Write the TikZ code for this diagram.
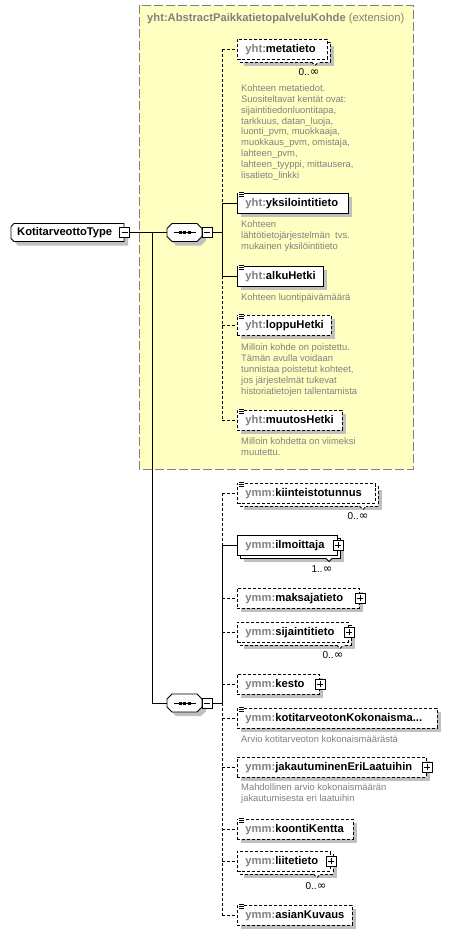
\documentclass[tikz,border=0pt]{standalone}
\usepackage{fontspec}
\setmainfont{Liberation Sans}
\newfontfamily\symfont{DejaVu Sans}
\usetikzlibrary{calc}
\definecolor{prefixgray}{HTML}{808080}
\definecolor{descgray}{HTML}{808080}
\definecolor{shadowgray}{HTML}{C0C0C0}
\definecolor{extyellow}{HTML}{FFFFC2}
\definecolor{extborder}{HTML}{808080}
\newcommand\elfont{\fontsize{11.2}{13}\selectfont\bfseries}
\newcommand\descfont{\fontsize{9.4}{10.9}\selectfont}
\newcommand\multfont{\fontsize{10}{11}\selectfont}
\newcommand\infsym{{\symfont\fontsize{11.5}{12}\selectfont ∞}}
\newcommand\el[2]{\mbox{\textcolor{prefixgray}{#1:}#2}}
\tikzset{
  elem/.style={draw, fill=white, line width=0.9pt, minimum height=20pt, inner xsep=8pt, inner ysep=0pt, anchor=north west, align=left, font=\elfont},
  optb/.style={dash pattern=on 3pt off 2pt},
  conn/.style={line width=0.9pt},
  optconn/.style={conn, dash pattern=on 3pt off 2pt},
  shd/.style={fill=shadowgray, draw=none},
  backbox/.style={draw, fill=white, line width=0.9pt},
  desc/.style={anchor=north west, inner sep=0pt, align=left, font=\descfont, text=descgray},
  mult/.style={font=\multfont, inner sep=0pt},
  pmbox/.style={draw, fill=white, minimum size=10pt, inner sep=0pt, line width=0.8pt},
}
% single element box: name, x, y, width, border style, text
\newcommand\elsingle[6]{%
  \fill[shd] ({#2+4},{#3+4}) rectangle ({#2+#4+4},{#3+24});
  \pgfmathsetmacro\tw{#4-16}
  \node[elem,#5,text width=\tw pt] (#1) at (#2,#3) {#6};
}
% stacked (multiple) element box: name, x, y, width, border style, text, notch x
\newcommand\elstack[7]{%
  \fill[shd] ({#2+7},{#3+7}) rectangle ({#2+#4+7},{#3+27});
  \draw[backbox,#5] ({#2+3},{#3+3}) rectangle ({#2+#4+3},{#3+23});
  \draw[backbox,#5] ({#7-3.5},{#3+23}) -- (#7,{#3+26.5}) -- ({#7+3.5},{#3+23});
  \pgfmathsetmacro\tw{#4-16}
  \node[elem,#5,text width=\tw pt] (#1) at (#2,#3) {#6};
}
\newcommand\docicon[1]{%
  \fill[white] ([xshift=1pt,yshift=1.5pt]#1.north west) rectangle ([xshift=7pt,yshift=-4.5pt]#1.north west);
  \foreach \dy in {0.5,-1.5,-3.5} \draw[line width=0.7pt] ([xshift=1.5pt,yshift=\dy pt]#1.north west) -- ([xshift=6.5pt,yshift=\dy pt]#1.north west);
}
\newcommand\plusbox[2]{%
  \node[pmbox] (#1) at (#2) {};
  \draw[line width=0.8pt] ([xshift=-3pt]#1.center) -- ([xshift=3pt]#1.center) ([yshift=-3pt]#1.center) -- ([yshift=3pt]#1.center);
}
\newcommand\minusbox[2]{%
  \node[pmbox] (#1) at (#2) {};
  \draw[line width=0.8pt] ([xshift=-3pt]#1.center) -- ([xshift=3pt]#1.center);
}
% sequence compositor: name, cx, cy
\newcommand\seqsym[3]{%
  \begin{scope}[shift={(#2,#3)}]
    \fill[shd] (-8.5,-5) -- (16.5,-5) -- (21.5,0) -- (21.5,8) -- (16.5,13) -- (-8.5,13) -- (-13.5,8) -- (-13.5,0) -- cycle;
    \node[draw=none, inner sep=0pt, minimum width=35pt, minimum height=18pt] (#1) at (0,0) {};
    \draw[fill=white, line width=0.9pt] (-12.5,-9) -- (12.5,-9) -- (17.5,-4) -- (17.5,4) -- (12.5,9) -- (-12.5,9) -- (-17.5,4) -- (-17.5,-4) -- cycle;
    \draw[line width=0.9pt] (-11,0) -- (11,0);
    \foreach \dx in {-4.5,0,4.5} \fill ({\dx-1.5},-1.5) rectangle ({\dx+1.5},1.5);
  \end{scope}
  \minusbox{#1m}{{#2+22.5},#3}
}
\begin{document}
\begin{tikzpicture}[x=1pt,y=-1pt]
\useasboundingbox (0,0) rectangle (466,934);
\fill[white] (0,0) rectangle (466,934);
% extension box
\draw[fill=extyellow, draw=extborder, line width=0.9pt, dash pattern=on 9pt off 3pt] (139,5) rectangle (413,469);
\node[anchor=west, inner sep=0pt, font=\elfont, text=prefixgray] (exthead) at (147,19) {yht:AbstractPaikkatietopalveluKohde\mdseries\ (extension)};

\coordinate (bus1) at (222,0);
\coordinate (bus2) at (222,0);
\coordinate (trunk) at (152,0);

% type box
\begin{scope}[shift={(11,223.5)}]
  \fill[shd] (7,4) -- (117,4) -- (117,22) -- (7,22) -- (4,19) -- (4,7) -- cycle;
  \draw[fill=white, line width=0.9pt] (3,0) -- (113,0) -- (113,18) -- (3,18) -- (0,15) -- (0,3) -- cycle;
  \node[anchor=west, inner sep=0pt, font=\elfont] (type) at (6,9) {KotitarveottoType};
\end{scope}
\minusbox{typem}{124.5,232.5}

\seqsym{seq1}{184.5}{232.5}
\seqsym{seq2}{184.5}{703}

% extension children
\elstack{meta}{237}{39}{90}{optb}{\el{yht}{metatieto}}{315}
\node[mult] (metam) at (309,72) {0..\infsym};
\node[desc] (metad) at (241,84.3) {Kohteen metatiedot.\\Suositeltavat kentät ovat:\\sijaintitiedonluontitapa,\\tarkkuus, datan\_luoja,\\luonti\_pvm, muokkaaja,\\muokkaus\_pvm, omistaja,\\lahteen\_pvm,\\lahteen\_tyyppi, mittausera,\\lisatieto\_linkki};

\elsingle{yks}{237}{193}{111}{solid}{\el{yht}{yksilointitieto}}
\docicon{yks}
\node[desc] (yksd) at (241,220.6) {Kohteen\\lähtötietojärjestelmän~~tvs.\\mukainen yksilöintitieto};

\elsingle{alku}{237}{266}{86}{solid}{\el{yht}{alkuHetki}}
\docicon{alku}
\node[desc] (alkud) at (241,293.6) {Kohteen luontipäivämäärä};

\elsingle{loppu}{237}{315}{94}{optb}{\el{yht}{loppuHetki}}
\docicon{loppu}
\node[desc] (loppud) at (241,343.6) {Milloin kohde on poistettu.\\Tämän avulla voidaan\\tunnistaa poistetut kohteet,\\jos järjestelmät tukevat\\historiatietojen tallentamista};

\elsingle{muutos}{237}{410}{105}{optb}{\el{yht}{muutosHetki}}
\docicon{muutos}
\node[desc] (muutosd) at (241,437.6) {Milloin kohdetta on viimeksi\\muutettu.};

% sequence 2 children
\elstack{kiint}{237}{483}{138}{optb}{\el{ymm}{kiinteistotunnus}}{363}
\docicon{kiint}
\node[mult] (kiintm) at (358,516) {0..\infsym};

\elstack{ilmo}{237}{535}{100}{solid}{\el{ymm}{ilmoittaja}}{329}
\plusbox{ilmop}{ilmo.east}
\node[mult] (ilmom) at (322,569) {1..\infsym};

\elsingle{maksa}{237}{588}{122}{optb}{\el{ymm}{maksajatieto}}
\plusbox{maksap}{maksa.east}

\elstack{sijai}{237}{622}{111}{optb}{\el{ymm}{sijaintitieto}}{340}
\plusbox{sijaip}{sijai.east}
\node[mult] (sijaim) at (333,655) {0..\infsym};

\elsingle{kesto}{237}{674}{82}{optb}{\el{ymm}{kesto}}
\plusbox{kestop}{kesto.east}

\elsingle{koko}{237}{708}{200}{optb}{\el{ymm}{kotitarveotonKokonaisma...}}
\docicon{koko}
\node[desc] (kokod) at (241,735.6) {Arvio kotitarveoton kokonaismäärästä};

\elsingle{jaka}{237}{757}{189}{optb}{\el{ymm}{jakautuminenEriLaatuihin}}
\plusbox{jakap}{jaka.east}
\node[desc] (jakad) at (241,783.6) {Mahdollinen arvio kokonaismäärän\\jakautumisesta eri laatuihin};

\elsingle{koont}{237}{819}{116}{optb}{\el{ymm}{koontiKentta}}
\docicon{koont}

\elstack{liite}{237}{851}{93}{optb}{\el{ymm}{liitetieto}}{317}
\plusbox{liitep}{liite.east}
\node[mult] (liitem) at (316,886) {0..\infsym};

\elsingle{asian}{237}{905}{115}{optb}{\el{ymm}{asianKuvaus}}
\docicon{asian}

% connectors: main
\draw[conn] (typem.east) -- (seq1.west);
\draw[conn] (trunk |- typem.east) -- (trunk |- seq2.west) -- (seq2.west);

% bus 1
\draw[conn] (seq1m.east) -- (seq1m.east -| bus1);
\draw[optconn] (meta.west -| bus1) -- (yks.west -| bus1);
\draw[conn] (yks.west -| bus1) -- (alku.west -| bus1);
\draw[optconn] (alku.west -| bus1) -- (muutos.west -| bus1);
\draw[optconn] (meta.west -| bus1) -- (meta.west);
\draw[conn] (yks.west -| bus1) -- (yks.west);
\draw[conn] (alku.west -| bus1) -- (alku.west);
\draw[optconn] (loppu.west -| bus1) -- (loppu.west);
\draw[optconn] (muutos.west -| bus1) -- (muutos.west);

% bus 2
\draw[conn] (seq2m.east) -- (seq2m.east -| bus2);
\draw[optconn] (kiint.west -| bus2) -- (ilmo.west -| bus2);
\draw[conn] (ilmo.west -| bus2) -- (seq2m.east -| bus2);
\draw[optconn] (seq2m.east -| bus2) -- (asian.west -| bus2);
\draw[optconn] (kiint.west -| bus2) -- (kiint.west);
\draw[conn] (ilmo.west -| bus2) -- (ilmo.west);
\draw[optconn] (maksa.west -| bus2) -- (maksa.west);
\draw[optconn] (sijai.west -| bus2) -- (sijai.west);
\draw[optconn] (kesto.west -| bus2) -- (kesto.west);
\draw[optconn] (koko.west -| bus2) -- (koko.west);
\draw[optconn] (jaka.west -| bus2) -- (jaka.west);
\draw[optconn] (koont.west -| bus2) -- (koont.west);
\draw[optconn] (liite.west -| bus2) -- (liite.west);
\draw[optconn] (asian.west -| bus2) -- (asian.west);
\end{tikzpicture}
\end{document}
